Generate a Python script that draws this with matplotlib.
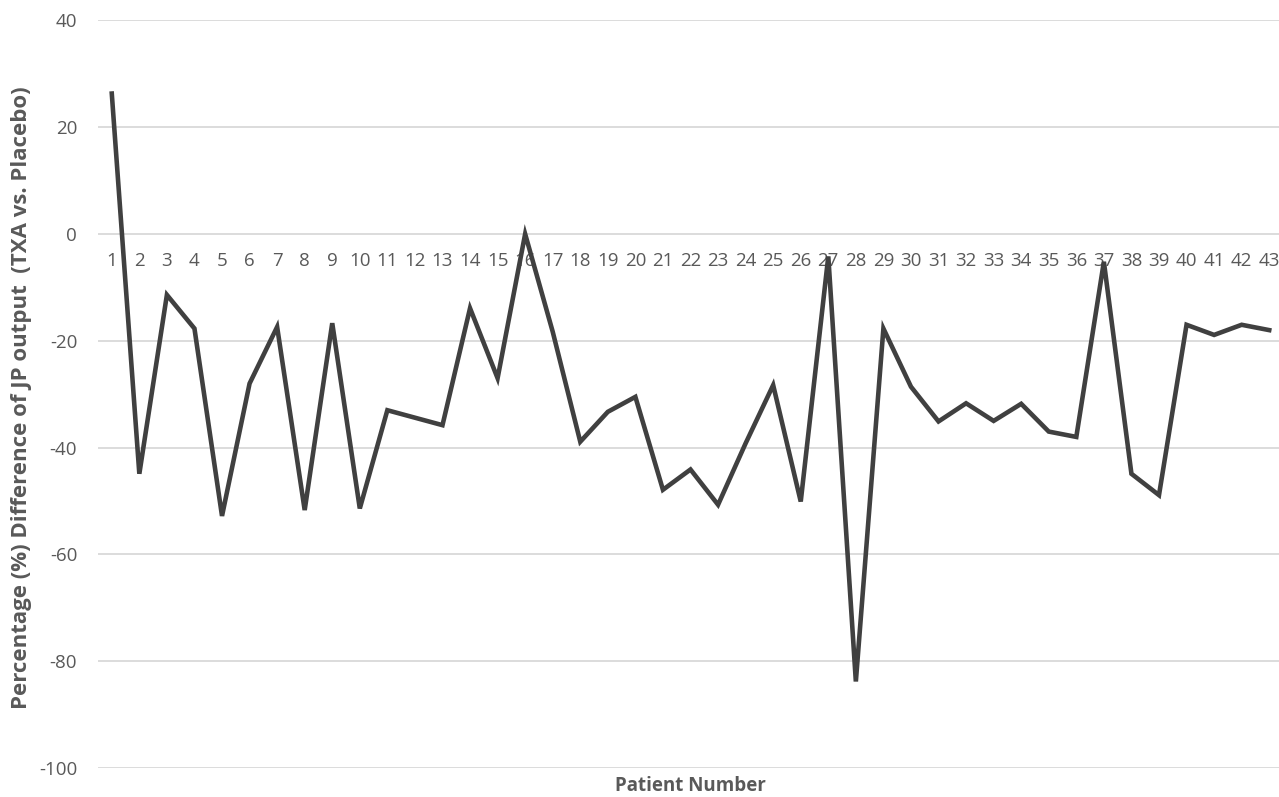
import matplotlib.pyplot as plt
from matplotlib.ticker import MultipleLocator

# --- Data ---
patients = list(range(1, 44))
pct_diff = [26.3, -44.9, -11.4, -17.7, -52.8, -28.0, -17.4, -51.7, -16.7, -51.4,
            -33.0, -34.4, -35.8, -13.9, -27.0, 0.0, -18.3, -38.9, -33.3, -30.5,
            -47.9, -44.1, -50.7, -39.2, -28.3, -50.1, -4.2, -83.8, -17.7, -28.6,
            -35.1, -31.7, -35.0, -31.8, -37.0, -38.0, -5.2, -44.9, -48.9, -17.0,
            -18.9, -17.0, -18.0]

plt.rcParams["font.family"] = ["Open Sans", "DejaVu Sans"]
plt.rcParams["axes.unicode_minus"] = False

W, H = 1279, 797
fig = plt.figure(figsize=(W / 100, H / 100), dpi=100)
left, right = 98 / W, 1283 / W
bottom, top = (H - 768) / H, (H - 20.4) / H
ax = fig.add_axes([left, bottom, right - left, top - bottom])

ax.plot(patients, pct_diff, color="#404040", linewidth=3.3, solid_joinstyle="miter", zorder=3)

ax.set_xlim(0.5, 43.5)
ax.set_ylim(-100, 40)
ax.yaxis.set_major_locator(MultipleLocator(20))
ax.set_xticks(patients)
ax.set_xticklabels([str(p) for p in patients])

ax.grid(axis="y", color="#d9d9d9", linewidth=1.3)
ax.grid(axis="x", visible=False)
ax.set_axisbelow(True)

for s in ["top", "right", "left"]:
    ax.spines[s].set_visible(False)
ax.spines["bottom"].set_position(("data", 0))
ax.spines["bottom"].set_visible(False)

ax.tick_params(axis="x", length=0, pad=13, labelsize=13.5, labelcolor="#595959")
ax.tick_params(axis="y", length=0, pad=15, labelsize=13.5, labelcolor="#595959")

fig.text(0.54, (H - 786) / H, "Patient Number", ha="center", va="center",
         fontsize=13.5, fontweight="bold", color="#595959")
fig.text(22 / W, (H - 398) / H, "Percentage (%) Difference of JP output  (TXA vs. Placebo)",
         ha="center", va="center", rotation=90, fontsize=16, fontweight="bold",
         color="#595959")

fig.savefig("out.png", dpi=100)
